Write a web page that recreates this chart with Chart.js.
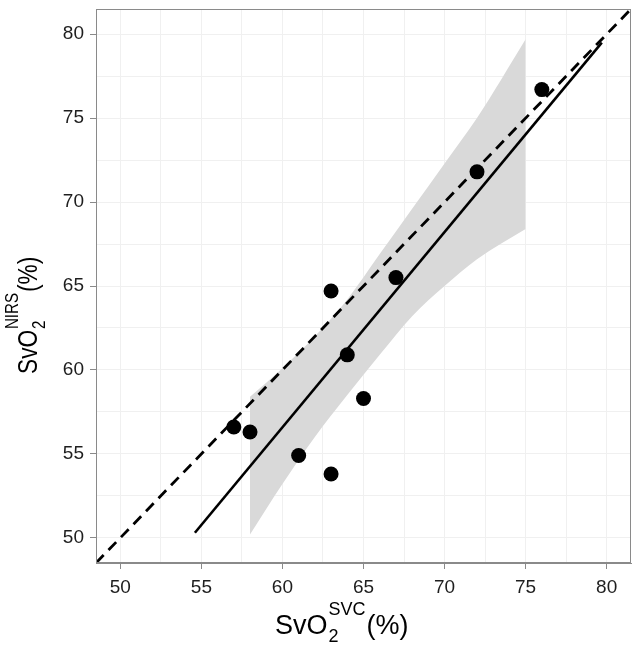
<!DOCTYPE html>
<html>
<head>
<meta charset="utf-8">
<script src="https://cdn.jsdelivr.net/npm/chart.js@4/dist/chart.umd.min.js"></script>
<style>
  html, body { margin: 0; padding: 0; background: #fff; }
  #wrap { width: 641px; height: 651px; }
</style>
</head>
<body>
<div id="wrap"><canvas id="chartCanvas" width="641" height="651"></canvas></div>
<script>
// measured values (SvO2 SVC vs SvO2 NIRS)
const svcValues  = [57, 58, 61, 63, 63, 64, 65, 67, 72, 76];
const nirsValues = [56.6, 56.3, 54.9, 64.7, 53.8, 60.9, 58.3, 65.5, 71.8, 76.7];

// regression line ends
const fitX = [54.6, 79.7];
const fitY = [50.3, 79.5];

// line of identity
const identityX = [48.5, 81.5];
const identityY = [48.5, 81.5];

// confidence band
const bandX     = [58, 60, 62, 64, 66, 68, 70, 72, 75];
const bandUpper = [58.4, 60.1, 62.0, 64.2, 66.9, 69.6, 72.3, 75.0, 79.7];
const bandLower = [50.2, 53.2, 56.0, 58.5, 60.9, 63.2, 65.0, 66.6, 68.4];

const xTickLabels = [50, 55, 60, 65, 70, 75, 80];
const yTickLabels = [50, 55, 60, 65, 70, 75, 80];
const axisMin = 48.5;
const axisMax = 81.5;

const FONT = '"Liberation Sans", Arial, Helvetica, sans-serif';

function toPoints(xs, ys) {
    return xs.map((x, i) => ({ x: x, y: ys[i] }));
}

// major ticks plus minor grid half way between them
function gridValues(labels) {
    let vals = [];
    labels.forEach((v, i) => {
        vals.push(v);
        if (i < labels.length - 1) vals.push((v + labels[i + 1]) / 2);
    });
    return vals;
}

// draws "SvO" with stacked subscript 2 / superscript tag, then "(%)"
function drawMathLabel(ctx, tag) {
    ctx.font = '27px ' + FONT;
    ctx.fillText('SvO', 0, 0);
    let x = ctx.measureText('SvO').width;
    ctx.font = '18px ' + FONT;
    ctx.fillText('2', x + 1, 8);
    ctx.fillText(tag, x + 1, -19);
    x += Math.max(ctx.measureText('2').width, ctx.measureText(tag).width) + 2;
    ctx.font = '27px ' + FONT;
    ctx.fillText('(%)', x, 0);
}

const panelPlugin = {
    id: 'panelBorder',
    afterDraw: function (chart) {
        let ctx = chart.ctx;
        let a = chart.chartArea;
        ctx.save();
        ctx.strokeStyle = '#8a8a8a';
        ctx.lineWidth = 1;
        ctx.strokeRect(a.left + 0.5, a.top + 0.5, a.right - a.left - 1, a.bottom - a.top - 1);

        // axis titles
        ctx.fillStyle = '#000';
        ctx.textBaseline = 'alphabetic';
        ctx.textAlign = 'left';
        ctx.save();
        ctx.translate(275, 634);
        drawMathLabel(ctx, 'SVC');
        ctx.restore();

        // y title is a bit squeezed along its length in the original
        ctx.save();
        ctx.translate(37, 374);
        ctx.rotate(-Math.PI / 2);
        ctx.scale(0.84, 1);
        drawMathLabel(ctx, 'NIRS');
        ctx.restore();
        ctx.restore();
    }
};

function axisOptions(labels, isX) {
    return {
        type: 'linear',
        position: isX ? 'bottom' : 'left',
        min: axisMin,
        max: axisMax,
        afterBuildTicks: function (scale) {
            scale.ticks = gridValues(labels).map(v => ({ value: v }));
        },
        afterFit: function (scale) {
            if (isX) scale.height = 88;
            else scale.width = 96;
            scale.paddingTop = 0;
            scale.paddingBottom = 0;
            scale.paddingLeft = 0;
            scale.paddingRight = 0;
        },
        ticks: {
            autoSkip: false,
            maxRotation: 0,
            padding: isX ? 7 : 6,
            color: '#1e1e1e',
            font: { family: FONT, size: 19 },
            callback: function (value) {
                return labels.indexOf(value) >= 0 ? String(value) : '';
            }
        },
        grid: {
            color: '#f0f0f0',
            lineWidth: 1,
            tickLength: 6,
            tickColor: function (c) {
                return (c.tick && labels.indexOf(c.tick.value) >= 0) ? '#8a8a8a' : 'rgba(0,0,0,0)';
            }
        },
        border: { display: true, color: '#8a8a8a', width: 1 }
    };
}

let ctx = document.getElementById('chartCanvas').getContext('2d');

let chart = new Chart(ctx, {
    type: 'scatter',
    data: {
        datasets: [
            {
                label: 'patients',
                data: toPoints(svcValues, nirsValues),
                backgroundColor: '#000',
                borderWidth: 0,
                pointRadius: 7.5,
                showLine: false
            },
            {
                label: 'regression',
                data: toPoints(fitX, fitY),
                showLine: true,
                borderColor: '#000',
                borderWidth: 2.6,
                pointRadius: 0,
                fill: false
            },
            {
                label: 'identity',
                data: toPoints(identityX, identityY),
                showLine: true,
                borderColor: '#000',
                borderWidth: 2.8,
                borderDash: [11, 7],
                pointRadius: 0,
                fill: false
            },
            {
                label: 'band lower',
                data: toPoints(bandX, bandLower),
                showLine: true,
                borderWidth: 0,
                borderColor: 'rgba(0,0,0,0)',
                pointRadius: 0,
                cubicInterpolationMode: 'monotone',
                fill: false
            },
            {
                label: 'band upper',
                data: toPoints(bandX, bandUpper),
                showLine: true,
                borderWidth: 0,
                borderColor: 'rgba(0,0,0,0)',
                backgroundColor: '#d9d9d9',
                pointRadius: 0,
                cubicInterpolationMode: 'monotone',
                fill: 3
            }
        ]
    },
    options: {
        responsive: false,
        animation: false,
        events: [],
        layout: { padding: { left: 0, right: 10, top: 9, bottom: 0 } },
        plugins: {
            legend: { display: false },
            tooltip: { enabled: false }
        },
        scales: {
            x: axisOptions(xTickLabels, true),
            y: axisOptions(yTickLabels, false)
        }
    },
    plugins: [panelPlugin]
});
</script>
</body>
</html>
